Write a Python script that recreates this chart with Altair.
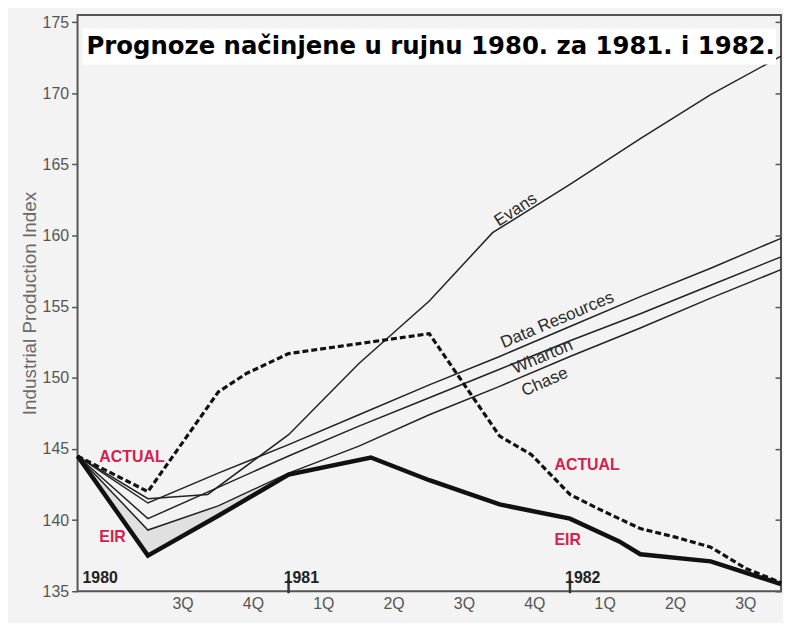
import altair as alt
import pandas as pd

# ---------------- data (x = quarter index from 2Q 1980 start, y = index value)
quarter_idx = [0, 1, 2, 3, 4, 5, 6, 7, 8, 9, 10]

eir_x = [0, 1, 2, 3, 4.17, 5, 6, 7, 7.7, 8, 9, 10]
eir_y = [144.5, 137.5, 140.3, 143.2, 144.4, 142.8, 141.1, 140.1, 138.5, 137.6, 137.1, 135.5]

actual_x = [0, 1, 2, 2.4, 3, 5, 6, 6.45, 7, 7.4, 8, 8.5, 9, 9.5, 10]
actual_y = [144.5, 142.0, 149.0, 150.3, 151.7, 153.1, 145.9, 144.6, 141.8, 140.8,
            139.4, 138.8, 138.1, 136.6, 135.6]

evans_x = [0, 1, 1.85, 3, 4, 5, 5.9, 7, 8, 9, 10]
evans_y = [144.5, 141.5, 141.8, 146.0, 151.0, 155.4, 160.2, 163.6, 166.8, 169.9, 172.6]

dr_y = [144.5, 141.2, 143.3, 145.3, 147.4, 149.5, 151.5, 153.6, 155.7, 157.7, 159.8]
wharton_y = [144.5, 140.1, 142.3, 144.5, 146.6, 148.6, 150.6, 152.6, 154.5, 156.5, 158.5]
chase_y = [144.5, 139.3, 141.0, 143.3, 145.2, 147.4, 149.4, 151.5, 153.5, 155.6, 157.6]

quarter_labels = ["3Q", "4Q", "1Q", "2Q", "3Q", "4Q", "1Q", "2Q", "3Q"]
quarter_label_pos = [1.5, 2.5, 3.5, 4.5, 5.5, 6.5, 7.5, 8.5, 9.5]
year_labels = ["1980", "1981", "1982"]
year_label_pos = [0.07, 2.93, 6.93]
year_tick_pos = [3, 7]
y_ticks = [135, 140, 145, 150, 155, 160, 165, 170, 175]

title_text = "Prognoze načinjene u rujnu 1980. za 1981. i 1982."

red_labels = ["ACTUAL", "EIR", "ACTUAL", "EIR"]
red_x = [0.31, 0.31, 6.78, 6.78]
red_y = [144.4, 138.8, 143.9, 138.6]

line_labels = ["Evans", "Data Resources", "Wharton", "Chase"]
line_label_x = [6.23, 6.82, 6.61, 6.64]
line_label_y = [161.8, 154.05, 151.47, 149.7]
line_label_angle = [327, 337, 337, 336]

# ---------------- frames
fc_rows = []
for name, ys in [("Data Resources", dr_y), ("Wharton", wharton_y), ("Chase", chase_y)]:
    for xv, yv in zip(quarter_idx, ys):
        fc_rows.append({"series": name, "x": xv, "y": yv})
for xv, yv in zip(evans_x, evans_y):
    fc_rows.append({"series": "Evans", "x": xv, "y": yv})
df_fc = pd.DataFrame(fc_rows)
df_eir = pd.DataFrame({"x": eir_x, "y": eir_y})
df_act = pd.DataFrame({"x": actual_x, "y": actual_y})
df_fill = pd.DataFrame({"x": quarter_idx[:4], "lo": eir_y[:4], "hi": chase_y[:4]})
df_q = pd.DataFrame({"x": quarter_label_pos, "t": quarter_labels})
df_year = pd.DataFrame({"x": year_label_pos, "t": year_labels, "y": [135.95] * 3})
df_ytick = pd.DataFrame({"x": year_tick_pos})
df_red = pd.DataFrame({"x": red_x, "y": red_y, "t": red_labels})
df_ll = pd.DataFrame({"x": line_label_x, "y": line_label_y, "t": line_labels,
                      "a": line_label_angle})
df_y = pd.DataFrame({"y": y_ticks})
df_one = pd.DataFrame({"t": [title_text]})

FONT = "Liberation Sans"
xscale = alt.Scale(domain=[0, 10], nice=False, zero=False)
yscale = alt.Scale(domain=[135, 175.5], nice=False, zero=False)

x_axis = alt.Axis(values=[1, 2, 3, 4, 5, 6, 7, 8, 9], labels=False, domain=False,
                  ticks=True, tickSize=6, tickWidth=1.5, tickColor="#444",
                  offset=-6, grid=False, title=None)
y_left = alt.Axis(values=y_ticks, tickSize=6, tickWidth=1.5, tickColor="#555",
                  labelFont=FONT, labelFontSize=16, labelColor="#555",
                  labelPadding=3, domain=False, grid=False,
                  title="Industrial Production Index", titleFont=FONT,
                  titleFontSize=19, titleFontWeight="normal", titleColor="#6a6a6a",
                  titlePadding=3)
y_right = alt.Axis(values=y_ticks, orient="right", tickSize=6, tickWidth=1.5,
                   tickColor="#555", labels=False, domain=False, grid=False,
                   offset=-6, title=None)

X = alt.X("x:Q", scale=xscale, axis=None)
Y = alt.Y("y:Q", scale=yscale, axis=None)

fill = alt.Chart(df_fill).mark_area(color="#e0e0e0", opacity=1).encode(
    x=alt.X("x:Q", scale=xscale, axis=x_axis),
    y=alt.Y("lo:Q", scale=yscale, axis=y_left),
    y2="hi:Q",
)

right_ticks = alt.Chart(df_y).mark_point(opacity=0).encode(
    x=alt.value(0),
    y=alt.Y("y:Q", scale=yscale, axis=y_right),
)

fc = alt.Chart(df_fc).mark_line(color="#222", strokeWidth=1.5).encode(
    x=X, y=Y, detail="series:N"
)
act = alt.Chart(df_act).mark_line(color="#111", strokeWidth=3.2,
                                  strokeDash=[6, 3]).encode(x=X, y=Y)
eir = alt.Chart(df_eir).mark_line(color="#111", strokeWidth=4.5).encode(x=X, y=Y)

ytick = alt.Chart(df_ytick).mark_rule(color="#333", strokeWidth=2.5).encode(
    x=X, y=alt.value(568), y2=alt.value(582)
)

qlab = alt.Chart(df_q).mark_text(font=FONT, fontSize=16, color="#555",
                                 baseline="middle").encode(
    x=X, y=alt.value(593), text="t:N"
)
ylab = alt.Chart(df_year).mark_text(font=FONT, fontSize=16, fontWeight="bold",
                                    color="#222", align="left",
                                    baseline="middle").encode(
    x=X, y=Y, text="t:N"
)
red = alt.Chart(df_red).mark_text(font=FONT, fontSize=16, fontWeight="bold",
                                  color="#d6204e", align="left",
                                  baseline="middle").encode(
    x=X, y=Y, text="t:N"
)
ll = alt.Chart(df_ll).mark_text(font=FONT, fontSize=17, color="#2a2a2a",
                                align="center", baseline="middle").encode(
    x=X, y=Y, text="t:N", angle=alt.Angle("a:Q", scale=None)
)

tbox = alt.Chart(df_one).mark_rect(color="white").encode(
    x=alt.value(5), x2=alt.value(703), y=alt.value(14), y2=alt.value(50)
)
ttext = alt.Chart(df_one).mark_text(font="DejaVu Sans", fontSize=24.5,
                                    fontWeight="bold", color="#000",
                                    align="left", baseline="middle").encode(
    x=alt.value(9), y=alt.value(32), text="t:N"
)

chart = alt.layer(
    fill, right_ticks, fc, act, eir, ytick, qlab, ylab, red, ll, tbox, ttext
).resolve_axis(y="independent").properties(
    width=708, height=580,
    autosize=alt.AutoSizeParams(type="none"),
    padding={"left": 70, "top": 5, "right": 2, "bottom": 30},
    background="#f3f3f3",
).configure_view(stroke="#555", strokeWidth=2, fill="#f3f3f3")

chart.save("out.html", embed_options={"renderer": "svg", "actions": False})
